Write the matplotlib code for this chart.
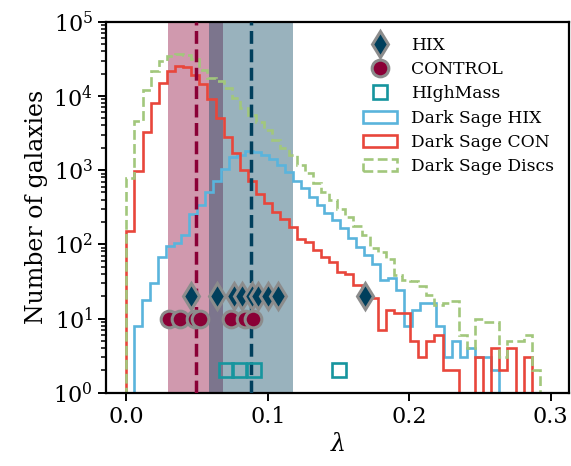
import numpy as np
import matplotlib
matplotlib.use("Agg")
import matplotlib.pyplot as plt

plt.rcParams['font.family'] = 'DejaVu Serif'
plt.rcParams['mathtext.fontset'] = 'dejavuserif'

# Histogram binning (lambda)
con_bin_start, con_bin_width = 0.0, 0.005734
hix_bin_start, hix_bin_width = 0.00527, 0.005618

# Dark Sage counts per bin
ds_con_counts = [152, 980, 3300, 8100, 15000, 21500, 25300, 24700, 19100, 14500,
                 9000, 5000, 2800, 1680, 1000, 705, 480, 357, 275, 222,
                 169, 118, 106, 83, 68, 58, 43, 40, 28, 19,
                 19, 7, 13, 12, 12, 5, 3, 5, 6, 2,
                 2, 0, 0, 3, 0, 4, 2, 4, 0, 3, 0]
ds_disc_counts = [775, 4600, 12000, 21900, 30000, 35000, 37000, 35600, 31000, 22300,
                  17500, 16000, 12600, 9300, 6800, 5500, 4500, 3470, 2550, 1966,
                  1600, 1171, 905, 680, 510, 390, 300, 235, 178, 133,
                  88, 78, 63, 39, 33, 32, 27, 21, 15, 16,
                  17, 6, 4, 10, 9, 9, 3, 5, 5, 6, 2]
ds_hix_counts = [8, 18, 30, 67, 95, 105, 133, 256, 339, 510,
                 715, 1030, 1515, 1620, 1815, 1730, 1620, 1400, 1170, 935,
                 720, 575, 435, 335, 262, 210, 168, 120, 93, 72,
                 55, 33, 35, 24, 8, 13, 16, 16, 8, 3,
                 5, 3, 4, 3, 3, 2, 0, 0, 0, 0]

# Observed samples
hix_lambda = [0.0455, 0.0639, 0.0761, 0.082, 0.0888, 0.0933, 0.1004, 0.107, 0.1687]
hix_level = 20
control_lambda = [0.0302, 0.038, 0.0486, 0.052, 0.0738, 0.0841, 0.0898]
control_level = 10
highmass_lambda = [0.0703, 0.0798, 0.0902, 0.1505]
highmass_level = 2

# Sample medians and spreads
con_median, con_lo, con_hi = 0.049, 0.0295, 0.0683
hix_median, hix_lo, hix_hi = 0.0881, 0.0584, 0.1178

c_hix = '#003f5c'
c_con = '#8a0036'
c_hm = '#16959e'
c_ds_hix = '#5ab4dc'
c_ds_con = '#e8463b'
c_ds_disc = '#a2c77c'

fig = plt.figure(figsize=(5.71, 4.66), dpi=100)
ax = fig.add_axes([0.1856, 0.1573, 0.8109, 0.7961])

ax.axvspan(con_lo, con_hi, color=c_con, alpha=0.4, lw=0, zorder=0)
ax.axvspan(hix_lo, hix_hi, color=c_hix, alpha=0.4, lw=0, zorder=0)

def edges_for(start, width, n):
    return start + width * np.arange(n + 1)

con_edges = edges_for(con_bin_start, con_bin_width, len(ds_con_counts))
disc_edges = edges_for(con_bin_start, con_bin_width, len(ds_disc_counts))
hix_edges = edges_for(hix_bin_start, hix_bin_width, len(ds_hix_counts))

def centers(e):
    return 0.5 * (e[1:] + e[:-1])

ax.hist(centers(hix_edges), bins=hix_edges, weights=ds_hix_counts, histtype='step',
        color=c_ds_hix, lw=1.9, log=True, label='Dark Sage HIX', zorder=2)
ax.hist(centers(con_edges), bins=con_edges, weights=ds_con_counts, histtype='step',
        color=c_ds_con, lw=1.9, log=True, label='Dark Sage CON', zorder=2)
ax.hist(centers(disc_edges), bins=disc_edges, weights=ds_disc_counts, histtype='step',
        color=c_ds_disc, lw=1.9, ls='--', log=True, label='Dark Sage Discs', zorder=2)

ax.axvline(con_median, color=c_con, lw=2.5, ls='--', zorder=3)
ax.axvline(hix_median, color=c_hix, lw=2.5, ls='--', zorder=3)

ax.plot(control_lambda, [control_level] * len(control_lambda), 'o', ms=12,
        mfc=c_con, mec='#8c8c8c', mew=2.2, ls='none', label='CONTROL', zorder=4)
ax.plot(hix_lambda, [hix_level] * len(hix_lambda), 'd', ms=13.5,
        mfc=c_hix, mec='#8c8c8c', mew=2.2, ls='none', label='HIX', zorder=5)
ax.plot(highmass_lambda, [highmass_level] * len(highmass_lambda), 's', ms=9.5,
        mfc='none', mec=c_hm, mew=1.9, ls='none', label='HIghMass', zorder=5)

ax.set_yscale('log')
ax.set_ylim(1, 1e5)
ax.set_xlim(-0.0144, 0.313)
ax.set_xticks([0.0, 0.1, 0.2, 0.3])

ax.set_xlabel(r'$\lambda$', fontsize=17)
ax.set_ylabel('Number of galaxies', fontsize=17)
ax.tick_params(which='major', direction='out', length=6, width=1.4, labelsize=16)
ax.tick_params(which='minor', direction='out', length=3.5, width=1.1)
for s in ax.spines.values():
    s.set_linewidth(1.6)

h, l = ax.get_legend_handles_labels()
order = ['HIX', 'CONTROL', 'HIghMass', 'Dark Sage HIX', 'Dark Sage CON', 'Dark Sage Discs']
hd = dict(zip(l, h))
ax.legend([hd[k] for k in order], order, loc='upper right', frameon=False,
          fontsize=12.3, labelspacing=0.42)

fig.savefig('out.png', dpi=100)
